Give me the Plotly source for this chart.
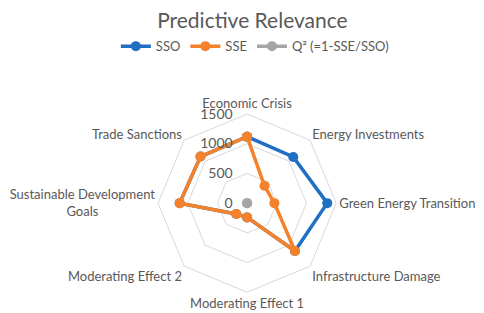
import plotly.graph_objects as go

NB = "\u00a0"
categories = ["Economic Crisis", "Energy Investments", "Green Energy Transition",
              "Infrastructure Damage", "Moderating Effect 1", "Moderating Effect 2",
              "Sustainable Development<br>Goals" + NB * 17, "Trade Sanctions"]
sso = [1120, 1100, 1350, 1140, 240, 258, 1136, 1110]
sse = [1120, 414, 460, 1140, 240, 258, 1136, 1110]
q2 = [0, 0.62, 0.66, 0, 0, 0, 0, 0]
radial_ticks = [0, 500, 1000, 1500]

def closed(v):
    return list(v) + [v[0]]

cats = closed(categories)
fig = go.Figure()
fig.add_trace(go.Scatterpolar(r=closed(sso), theta=cats, name="SSO", mode="lines+markers",
                              line=dict(color="#1f6fc5", width=3.5), marker=dict(size=10)))
fig.add_trace(go.Scatterpolar(r=closed(sse), theta=cats, name="SSE", mode="lines+markers",
                              line=dict(color="#f5812a", width=3.5), marker=dict(size=10)))
fig.add_trace(go.Scatterpolar(r=closed(q2), theta=cats, name="Q² (=1-SSE/SSO)", mode="lines+markers",
                              line=dict(color="#a5a5a5", width=3.5), marker=dict(size=10)))

fig.update_layout(
    width=484, height=313,
    margin=dict(l=0, r=0, t=0, b=0),
    paper_bgcolor="white", plot_bgcolor="white",
    font=dict(family="Lato", size=13, color="#595959"),
    title=dict(text="Predictive Relevance", x=0.505, xanchor="center", y=0.96, yanchor="middle",
               font=dict(size=21, color="#595959")),
    legend=dict(orientation="h", x=0.51, xanchor="center", y=0.878, yanchor="middle",
                font=dict(size=13, color="#595959"), itemwidth=30, tracegroupgap=0),
    polar=dict(
        domain=dict(x=[0.310, 0.678], y=[0.092, 0.661]),
        bgcolor="white",
        radialaxis=dict(range=[0, 1500], tickvals=radial_ticks, angle=90, tickangle=90,
                        showline=False, gridcolor="#d9d9d9", gridwidth=1,
                        ticks="outside", ticklen=9, tickcolor="rgba(0,0,0,0)",
                        side="counterclockwise", tickfont=dict(size=14, color="#595959")),
        angularaxis=dict(direction="clockwise", rotation=90, showgrid=False,
                         linecolor="#d9d9d9", ticks="",
                         tickfont=dict(size=13, color="#595959")),
        gridshape="linear",
    ),
)
fig.write_html("out.html")
